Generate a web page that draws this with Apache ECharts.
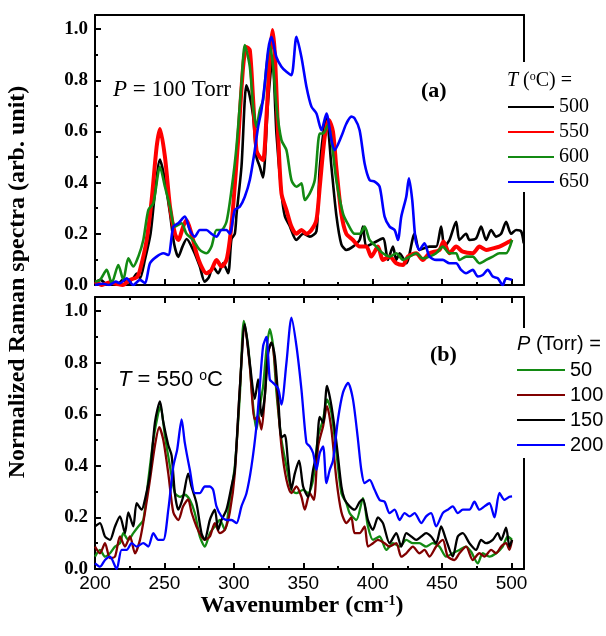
<!DOCTYPE html>
<html lang="en">

<head>
  <meta charset="UTF-8">
  <title>Raman spectra</title>
  <script src="https://cdn.jsdelivr.net/npm/echarts@6/dist/echarts.min.js"></script>
  <style>
    body { margin: 0; background: #fff; }
  </style>
</head>

<body>
  <div id="chart" style="width: 606px; height: 636px;"></div>
  <script>
    // legend labels
    var tempLabels = ['500', '550', '600', '650'];
    var pressLabels = ['50', '100', '150', '200'];

    // (a) P = 100 Torr, different T
    var topBlack500 = [[200,0.01],[204,0.02],[208,0.005],[212,0.015],[216,0.0],[220,0.02],[224,0.01],[228,0.03],[230,0.045],[232.4,0.026],[236,0.1],[240,0.2],[243,0.35],[246.8,0.49],[250,0.42],[254,0.28],[257,0.16],[260,0.11],[263,0.15],[266,0.18],[270.7,0.137],[275.5,0.072],[279,0.013],[282,0.03],[285,0.072],[288.7,0.046],[292.3,0.085],[295.9,0.046],[298.3,0.18],[300.7,0.2],[302,0.28],[305.5,0.462],[309,0.78],[311,0.75],[313.9,0.66],[316.3,0.5],[318.7,0.462],[321,0.42],[324.7,0.72],[327.8,0.885],[330.7,0.59],[334.3,0.36],[336.7,0.27],[340.3,0.23],[345,0.176],[350,0.2],[354.7,0.189],[359.5,0.21],[361.9,0.46],[366.7,0.66],[370.3,0.462],[373.9,0.27],[377.4,0.16],[381,0.137],[385.8,0.15],[390.6,0.176],[393,0.228],[395.4,0.15],[400.2,0.163],[407.4,0.182],[411,0.098],[414.6,0.15],[417,0.098],[419.4,0.124],[424.2,0.085],[430.2,0.2],[433.7,0.137],[440.9,0.15],[445.7,0.15],[449.3,0.228],[451.7,0.15],[455.3,0.176],[460.1,0.247],[462.5,0.176],[467.3,0.2],[469.7,0.176],[474.5,0.182],[478.1,0.228],[481.7,0.176],[485.3,0.215],[488.9,0.189],[492.5,0.2],[496.1,0.247],[499.7,0.2],[503.3,0.215],[506.9,0.21],[508.8,0.163]];
    var topRed550 = [[200,0.013],[205,0.0],[210,0.01],[215,0.005],[220,0.0],[225,0.02],[230,0.03],[232.4,0.059],[237.2,0.176],[240.8,0.332],[244.4,0.54],[246.8,0.61],[250.4,0.5],[254,0.306],[257.6,0.2],[260,0.176],[263.5,0.228],[265.9,0.254],[269.5,0.2],[273.1,0.124],[276.7,0.072],[280.3,0.046],[283.9,0.059],[287.5,0.098],[291.1,0.072],[294.7,0.098],[297.1,0.176],[299.5,0.306],[303.1,0.566],[306.7,0.853],[309.1,0.93],[311.5,0.918],[313.9,0.723],[316.3,0.527],[318.7,0.5],[321.1,0.488],[323.5,0.658],[325.9,0.89],[327.8,0.996],[329.5,0.905],[331.9,0.592],[334.3,0.358],[337.9,0.293],[341.5,0.228],[345.1,0.2],[348.7,0.215],[352.3,0.2],[355.9,0.215],[359.5,0.254],[361.9,0.384],[365.5,0.58],[368.5,0.645],[371.4,0.6],[373.8,0.46],[377.4,0.28],[381,0.2],[385.8,0.176],[390.6,0.15],[395.4,0.15],[399,0.111],[403.8,0.15],[407.4,0.098],[412.2,0.111],[417,0.085],[421.8,0.078],[425.4,0.111],[431.4,0.124],[436.1,0.098],[440.9,0.124],[448.1,0.137],[451,0.17],[455.3,0.124],[460.1,0.15],[464.9,0.13],[472.1,0.124],[476.9,0.15],[481.7,0.137],[486.5,0.143],[491.3,0.15],[496.1,0.163],[500.4,0.176]];
    var topGreen600 = [[200,0.013],[203.6,0.02],[208.4,0.059],[212,0.007],[216.8,0.078],[220.4,0.02],[224,0.104],[227.6,0.072],[231.2,0.111],[234.8,0.176],[238.4,0.293],[242,0.319],[246.8,0.462],[250.4,0.384],[254,0.306],[257.6,0.228],[262.4,0.241],[265.9,0.2],[270.7,0.176],[275.5,0.137],[280.3,0.124],[283.9,0.15],[287.5,0.215],[291.1,0.215],[294.7,0.247],[298.3,0.371],[301.9,0.54],[305.5,0.788],[307.9,0.9375],[311.5,0.853],[313.9,0.697],[316.3,0.618],[318.7,0.684],[321.1,0.723],[323.5,0.853],[325.9,0.9375],[328.3,0.853],[330.7,0.697],[334.3,0.566],[337.9,0.527],[341.5,0.41],[345.1,0.384],[348.7,0.397],[351.1,0.332],[354.7,0.358],[358.3,0.41],[361.9,0.592],[364.3,0.592],[367.9,0.625],[370,0.58],[373.8,0.41],[378.6,0.28],[382,0.24],[387,0.2],[390.6,0.2],[394.2,0.228],[397.8,0.176],[402.6,0.15],[407.4,0.124],[412.2,0.111],[417,0.124],[421.8,0.098],[426.6,0.111],[431.4,0.124],[436.1,0.104],[440.9,0.111],[445.7,0.124],[450.5,0.15],[455.3,0.124],[460.1,0.124],[462.5,0.098],[467.3,0.111],[472.1,0.111],[476.9,0.085],[481.7,0.098],[486.5,0.111],[491.3,0.124],[496.1,0.124],[500.4,0.176]];
    var topBlue650 = [[200,0.0],[206,0.005],[210,0.0],[215,0.013],[218,0.007],[222.8,0.026],[227.6,0.0],[232.4,0.02],[236,0.007],[239.6,0.085],[244.4,0.111],[249.2,0.124],[252.8,0.117],[256.4,0.228],[260,0.241],[264.7,0.267],[268.3,0.215],[271.9,0.189],[275.5,0.215],[280.3,0.215],[283.9,0.2],[287.5,0.189],[291.1,0.215],[294.7,0.215],[297.1,0.2],[300.7,0.293],[304.3,0.306],[307.9,0.345],[311.5,0.41],[315.1,0.527],[317.5,0.618],[319.9,0.684],[322.3,0.788],[324.7,0.918],[327.1,0.97],[330.7,0.89],[334.3,0.853],[337.9,0.833],[341.5,0.82],[345.1,0.97],[348.7,0.89],[352.3,0.775],[355.9,0.697],[359.5,0.67],[363.1,0.605],[366.7,0.67],[370.3,0.566],[372.6,0.527],[377.4,0.58],[381,0.63],[384.6,0.658],[387,0.651],[390.6,0.605],[394.2,0.475],[397.8,0.41],[401.4,0.404],[405,0.384],[408.6,0.267],[412.2,0.228],[415.8,0.215],[418.2,0.176],[420.6,0.267],[424.2,0.345],[426.1,0.417],[428.5,0.332],[430.9,0.176],[433.7,0.137],[437.3,0.163],[440.9,0.111],[445.7,0.098],[450.5,0.098],[455.3,0.085],[460.1,0.085],[463.7,0.059],[467.3,0.046],[472.1,0.059],[475.7,0.033],[479.3,0.039],[482.9,0.059],[486.5,0.033],[490.1,0.026],[493.7,0.0],[496.1,0.026],[500.4,0.02]];

    // (b) T = 550 C, different P
    var botGreen50 = [[200,0.048],[203.6,0.074],[207.2,0.048],[210.8,0.061],[214.4,0.087],[218,0.1],[220.4,0.139],[224,0.113],[227.6,0.139],[231.2,0.165],[234.8,0.19],[238.4,0.346],[242,0.5],[245.6,0.606],[247.2,0.63],[250.4,0.515],[254,0.398],[257.6,0.294],[261.2,0.28],[264.7,0.288],[268.3,0.268],[271.9,0.217],[275.5,0.126],[279.1,0.087],[282.7,0.139],[286.3,0.165],[289.9,0.19],[293.5,0.152],[297.1,0.268],[300.7,0.398],[304.3,0.67],[307.2,0.962],[310.3,0.865],[313.9,0.632],[316.3,0.541],[318.7,0.632],[321.1,0.709],[323.5,0.852],[325.9,0.93],[328.3,0.865],[330.7,0.684],[334.3,0.502],[337.9,0.398],[341.5,0.307],[345.1,0.294],[349.9,0.307],[353.5,0.294],[357.1,0.346],[360.7,0.515],[364.3,0.58],[367.1,0.658],[370.3,0.606],[373.9,0.45],[377.5,0.294],[381.1,0.255],[383.4,0.217],[388.2,0.19],[393,0.275],[396.6,0.165],[400.2,0.113],[405,0.126],[409.8,0.074],[414.6,0.1],[419.4,0.087],[424.2,0.113],[429,0.1],[433.7,0.1],[438.5,0.087],[443.3,0.1],[448.1,0.087],[452.9,0.048],[457.7,0.061],[462.5,0.074],[467.3,0.087],[470.9,0.067],[475.7,0.022],[479.3,0.061],[484.1,0.048],[488.9,0.061],[493.7,0.087],[497.3,0.126],[500.4,0.113]];
    var botRed100 = [[200,0.087],[203.6,0.061],[207.2,0.1],[210.8,0.042],[214.4,0.048],[218,0.126],[221.6,0.087],[225.2,0.126],[228.8,0.061],[232.4,0.113],[236,0.22],[239.6,0.346],[243.2,0.48],[246.3,0.55],[249.2,0.5],[252.8,0.37],[256.4,0.22],[260,0.19],[263.5,0.243],[267.1,0.27],[269.5,0.22],[273.1,0.165],[276.7,0.126],[279.1,0.113],[282.7,0.126],[286.3,0.178],[289.9,0.139],[293.5,0.152],[297.1,0.22],[300.7,0.37],[304.3,0.7],[307.9,0.943],[311.5,0.787],[315.1,0.58],[317.5,0.593],[319.9,0.541],[322.3,0.67],[324.7,0.839],[327.1,0.878],[329.5,0.8],[331.9,0.632],[334.3,0.476],[337.9,0.346],[341.5,0.294],[345.1,0.32],[348.7,0.28],[351.1,0.23],[354.7,0.294],[357.6,0.268],[360.7,0.476],[364.3,0.554],[367.1,0.632],[370.3,0.541],[373.9,0.346],[377.5,0.22],[381.1,0.178],[384.6,0.2],[387,0.139],[390.6,0.139],[394.2,0.165],[396.6,0.087],[400.2,0.1],[403.8,0.113],[408.6,0.1],[412.2,0.087],[417,0.1],[420.6,0.048],[424.2,0.061],[429,0.087],[433.7,0.061],[437.3,0.074],[440.9,0.048],[445.7,0.087],[450.5,0.113],[454.1,0.048],[458.9,0.035],[462.5,0.061],[467.3,0.087],[472.1,0.035],[476.9,0.061],[480.5,0.048],[485.3,0.074],[488.9,0.061],[492.5,0.087],[496.1,0.1],[498.5,0.074],[500.4,0.113]];
    var botBlack150 = [[200,0.165],[203.6,0.178],[207.2,0.126],[210.8,0.113],[214.4,0.165],[218,0.204],[221.6,0.139],[224,0.22],[227.6,0.165],[230,0.255],[233.6,0.23],[236,0.27],[239.6,0.37],[243.2,0.57],[246.8,0.65],[249.2,0.57],[252.8,0.48],[255.2,0.44],[257.6,0.29],[260,0.23],[263.5,0.28],[267.1,0.37],[269.5,0.32],[273.1,0.255],[276.7,0.139],[279.1,0.113],[282.7,0.19],[286.3,0.23],[288.7,0.152],[291.1,0.19],[294.7,0.23],[298.3,0.32],[300.7,0.385],[304.3,0.7],[307.9,0.95],[311.5,0.8],[315.1,0.66],[317.5,0.735],[319.9,0.593],[322.3,0.67],[324.7,0.84],[327.1,0.878],[329.5,0.826],[331.9,0.67],[334.3,0.51],[336.7,0.52],[339.1,0.41],[341.5,0.31],[343.9,0.37],[347,0.42],[349.9,0.32],[353.5,0.28],[357.1,0.385],[359.5,0.45],[361.9,0.59],[364.3,0.567],[367.1,0.71],[370.3,0.632],[373.9,0.49],[377.5,0.32],[379.8,0.27],[383.4,0.243],[387,0.23],[390.6,0.26],[393,0.27],[396.6,0.19],[400.2,0.152],[403.8,0.2],[407.4,0.178],[412.2,0.1],[417,0.139],[420.6,0.087],[424.2,0.139],[427.8,0.126],[431.4,0.113],[435,0.126],[438.5,0.139],[442.1,0.126],[445.7,0.1],[449.3,0.165],[452.9,0.113],[457.7,0.048],[461.3,0.126],[464.9,0.139],[469.7,0.1],[474.5,0.074],[478.1,0.113],[481.7,0.1],[486.5,0.113],[490.1,0.139],[492.5,0.113],[496.1,0.16],[498.5,0.087],[500.4,0.113]];
    var botBlue200 = [[200,0.022],[203.6,0.009],[207.2,0.035],[210.8,0.048],[215.6,0.0],[219.2,0.074],[222.8,0.074],[226.4,0.1],[230,0.087],[234.8,0.1],[238.4,0.087],[242,0.139],[245.6,0.113],[249.2,0.113],[252.8,0.23],[256.4,0.398],[259.2,0.463],[262.4,0.58],[264.7,0.489],[268.3,0.385],[271.9,0.294],[275.5,0.294],[279.1,0.32],[282.7,0.32],[285.1,0.307],[287.5,0.243],[291.1,0.204],[294.7,0.19],[298.3,0.19],[301.9,0.178],[305.5,0.243],[309.1,0.294],[312.7,0.398],[316.3,0.554],[318.7,0.709],[321.1,0.865],[323.5,0.9],[325.9,0.735],[328.3,0.722],[331.9,0.7],[334.3,0.638],[337.9,0.8],[341.5,0.975],[345.1,0.865],[348.7,0.696],[352.3,0.489],[354.7,0.476],[357.1,0.45],[359.5,0.385],[361.9,0.45],[364.3,0.476],[366.7,0.333],[369.1,0.385],[371.4,0.42],[375,0.58],[378.6,0.684],[382.2,0.722],[385.8,0.658],[389.4,0.502],[391.8,0.385],[394.2,0.333],[397.8,0.346],[401.4,0.307],[405,0.268],[408.6,0.261],[412.2,0.217],[415.8,0.23],[419.4,0.19],[423,0.217],[426.6,0.204],[430.2,0.217],[435,0.178],[438.5,0.204],[442.1,0.217],[445.7,0.165],[450.5,0.217],[454.1,0.23],[457.7,0.243],[461.3,0.217],[464.9,0.23],[469.7,0.23],[473.3,0.261],[476.9,0.23],[480.5,0.243],[484.1,0.255],[487.7,0.2],[491.3,0.295],[494.9,0.268],[498.5,0.28],[500.4,0.282]];

    var SERIF = 'Liberation Serif';
    var SANS = 'Liberation Sans';

    var myChart = echarts.init(document.getElementById('chart'));

    // x axes: bottom one with ticks, top one is just the frame
    function xAx(grid, pos, labels, ticks) {
      return {
        gridIndex: grid, type: 'value', position: pos, min: 200, max: 509, interval: 50,
        axisLine: { show: true, onZero: false, lineStyle: { color: '#000', width: 2 } },
        axisTick: { show: ticks, inside: true, length: 6, lineStyle: { color: '#000', width: 2 } },
        minorTick: { show: ticks, splitNumber: 2, length: 3, lineStyle: { color: '#000', width: 2 } },
        axisLabel: { show: labels, color: '#000', fontFamily: SANS, fontSize: 19, margin: 5, showMaxLabel: false },
        splitLine: { show: false }
      };
    }
    function yAx(grid, pos, labels) {
      return {
        gridIndex: grid, type: 'value', position: pos, min: 0, max: 1.055, interval: 0.2,
        axisLine: { show: true, lineStyle: { color: '#000', width: 2 } },
        axisTick: { show: labels, inside: true, length: 6, lineStyle: { color: '#000', width: 2 } },
        minorTick: { show: labels, splitNumber: 2, length: 3, lineStyle: { color: '#000', width: 2 } },
        axisLabel: {
          show: labels, color: '#000', fontFamily: SERIF, fontWeight: 'bold', fontSize: 19, margin: 7,
          formatter: function (v) { return v > 1.01 ? '' : v.toFixed(1); }
        },
        splitLine: { show: false }
      };
    }

    function line(name, data, color, width, xi, yi) {
      return {
        type: 'line', name: name, data: data, xAxisIndex: xi, yAxisIndex: yi,
        symbol: 'none', smooth: 0.25, animation: false,
        lineStyle: { color: color, width: width }, itemStyle: { color: color }
      };
    }

    var option = {
      animation: false,
      grid: [
        { left: 95, top: 15, width: 429, height: 270 },
        { left: 95, top: 297, width: 429, height: 272 }
      ],
      xAxis: [xAx(0, 'bottom', false, true), xAx(0, 'top', false, false), xAx(1, 'bottom', true, true), xAx(1, 'top', false, true)],
      yAxis: [yAx(0, 'left', true), yAx(0, 'right', false), yAx(1, 'left', true), yAx(1, 'right', false)],
      // itemHeight 2 keeps the legend marker a bare line
      legend: [{
        data: tempLabels, orient: 'vertical', left: 507, top: 97, padding: 0, itemWidth: 46, itemHeight: 2, itemGap: 5,
        selectedMode: false, z: 10, textStyle: { fontFamily: SERIF, fontSize: 20, color: '#000' }
      }, {
        data: pressLabels, orient: 'vertical', left: 516, top: 360, padding: 0, itemWidth: 48, itemHeight: 2, itemGap: 5,
        selectedMode: false, z: 10, textStyle: { fontFamily: SANS, fontSize: 20, color: '#000' }
      }],
      graphic: [
        // white boxes behind the legends, they cut the right frame
        { type: 'rect', z: 8, shape: { x: 518, y: 62, width: 88, height: 130 }, style: { fill: '#fff' } },
        { type: 'rect', z: 8, shape: { x: 518, y: 328, width: 88, height: 130 }, style: { fill: '#fff' } },
        {
          type: 'text', z: 10, x: 507, y: 81,
          style: {
            text: '{i|T} ({s|o}C) =', fill: '#000', font: '20px "Liberation Serif"', verticalAlign: 'middle', textVerticalAlign: 'middle',
            rich: { i: { fontStyle: 'italic', fontFamily: SERIF, fontSize: 20 }, s: { fontFamily: SERIF, fontSize: 12, verticalAlign: 'top' } }
          }
        },
        {
          type: 'text', z: 10, x: 517, y: 344,
          style: {
            text: '{i|P} (Torr) =', fill: '#000', font: '20px "Liberation Sans"', verticalAlign: 'middle', textVerticalAlign: 'middle',
            rich: { i: { fontStyle: 'italic', fontFamily: SANS, fontSize: 20 } }
          }
        },
        {
          type: 'text', z: 10, x: 113, y: 90,
          style: {
            text: '{i|P} = 100 Torr', fill: '#000', font: '23px "Liberation Serif"', verticalAlign: 'middle', textVerticalAlign: 'middle',
            rich: { i: { fontStyle: 'italic', fontFamily: SERIF, fontSize: 23 } }
          }
        },
        {
          type: 'text', z: 10, x: 421, y: 91,
          style: { text: '(a)', fill: '#000', font: 'bold 22px "Liberation Serif"', verticalAlign: 'middle', textVerticalAlign: 'middle' }
        },
        {
          type: 'text', z: 10, x: 118, y: 380,
          style: {
            text: '{i|T} = 550 {s|o}C', fill: '#000', font: '22px "Liberation Sans"', verticalAlign: 'middle', textVerticalAlign: 'middle',
            rich: { i: { fontStyle: 'italic', fontFamily: SANS, fontSize: 22 }, s: { fontFamily: SANS, fontSize: 14, verticalAlign: 'top' } }
          }
        },
        {
          type: 'text', z: 10, x: 430, y: 355,
          style: { text: '(b)', fill: '#000', font: 'bold 22px "Liberation Serif"', verticalAlign: 'middle', textVerticalAlign: 'middle' }
        },
        {
          type: 'text', z: 10, x: 302, y: 606,
          style: {
            text: 'Wavenumber (cm{s|-1})', fill: '#000', font: 'bold 24px "Liberation Serif"',
            align: 'center', textAlign: 'center', verticalAlign: 'middle', textVerticalAlign: 'middle',
            rich: { s: { fontFamily: SERIF, fontWeight: 'bold', fontSize: 14, verticalAlign: 'top' } }
          }
        },
        {
          type: 'text', z: 10, x: 18, y: 282, rotation: Math.PI / 2,
          style: {
            text: 'Normalized Raman spectra (arb. unit)', fill: '#000', font: 'bold 24px "Liberation Serif"',
            align: 'center', textAlign: 'center', verticalAlign: 'middle', textVerticalAlign: 'middle'
          }
        }
      ],
      series: [
        line('500', topBlack500, '#000000', 2.6, 0, 0),
        line('550', topRed550, '#ff0000', 4, 0, 0),
        line('600', topGreen600, '#138a13', 2.6, 0, 0),
        line('650', topBlue650, '#0000ff', 2.6, 0, 0),
        line('50', botGreen50, '#138a13', 2.3, 2, 2),
        line('100', botRed100, '#800000', 2.3, 2, 2),
        line('150', botBlack150, '#000000', 2.3, 2, 2),
        line('200', botBlue200, '#0000ff', 2.3, 2, 2)
      ]
    };

    myChart.setOption(option);
  </script>
</body>

</html>
